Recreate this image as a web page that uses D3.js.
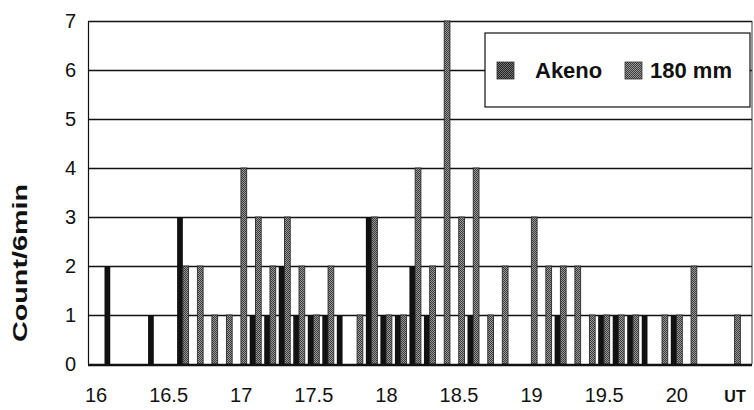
<!DOCTYPE html>
<html>
<head>
<meta charset="utf-8">
<script src="https://cdn.jsdelivr.net/npm/d3@7"></script>
<style>
body { margin: 0; background: #fff; }
svg { display: block; font-family: "Liberation Sans", Arial, sans-serif; }
</style>
</head>
<body>
<svg id="chart" width="754" height="410"></svg>
<script>
// 6 min bins (UT hours, bin start)
const bins = ["16.0","16.1","16.2","16.3","16.4","16.5","16.6","16.7","16.8","16.9",
              "17.0","17.1","17.2","17.3","17.4","17.5","17.6","17.7","17.8","17.9",
              "18.0","18.1","18.2","18.3","18.4","18.5","18.6","18.7","18.8","18.9",
              "19.0","19.1","19.2","19.3","19.4","19.5","19.6","19.7","19.8","19.9",
              "20.0","20.1","20.2","20.3","20.4"];
const akeno = [2,0,0,1,0,3,0,0,0,0, 1,1,2,1,1,1,1,0,3,1, 1,2,1,0,0,1,0,0,0,0, 0,1,0,0,1,1,1,1,0,1, 0,0,0,0,0];
const mm180 = [0,0,0,0,0,2,2,1,1,4, 3,2,3,2,1,2,0,1,3,1, 1,4,2,7,3,4,1,2,0,3, 2,2,2,1,1,1,1,0,1,1, 2,0,0,1,0];
const seriesNames = ["Akeno", "180 mm"];
const xTickLabels = ["16","16.5","17","17.5","18","18.5","19","19.5","20"];
const yTicks = [0,1,2,3,4,5,6,7];

const plot = {left: 88, right: 752, top: 21, bottom: 364};
const step = 14.52;
const svg = d3.select("#chart");

// stipple fills to mimic the printed halftone
const defs = svg.append("defs");
function stipple(id, light, dark) {
    const p = defs.append("pattern").attr("id", id)
        .attr("width", 2).attr("height", 2).attr("patternUnits", "userSpaceOnUse");
    p.append("rect").attr("width", 2).attr("height", 2).attr("fill", light);
    p.append("rect").attr("width", 1).attr("height", 1).attr("fill", dark);
    p.append("rect").attr("x", 1).attr("y", 1).attr("width", 1).attr("height", 1).attr("fill", dark);
}
stipple("grayFill", "#9a9a9a", "#3a3a3a");
stipple("darkFill", "#777", "#222");

const y = d3.scaleLinear().domain([0, 7]).range([plot.bottom, plot.top]);
const x = d3.scaleBand().domain(bins).range([103, 103 + bins.length * step]);
const xs = d3.scaleBand().domain(["akeno", "mm180"]).range([1.5, 13]);

// gridlines
svg.append("g").selectAll("line")
    .data(yTicks.filter(d => d > 0))
    .enter().append("line")
    .attr("x1", plot.left).attr("x2", plot.right)
    .attr("y1", d => y(d) + 0.5).attr("y2", d => y(d) + 0.5)
    .attr("stroke", "#111").attr("stroke-width", 1.3);

// bars
const rows = bins.map((b, i) => ({bin: b, akeno: akeno[i], mm180: mm180[i]}));
svg.append("g").selectAll("rect")
    .data(rows.filter(d => d.akeno > 0))
    .enter().append("rect")
    .attr("x", d => x(d.bin) + xs("akeno"))
    .attr("width", xs.bandwidth())
    .attr("y", d => y(d.akeno))
    .attr("height", d => y(0) - y(d.akeno))
    .attr("fill", "#111");

svg.append("g").selectAll("rect")
    .data(rows.filter(d => d.mm180 > 0))
    .enter().append("rect")
    .attr("x", d => x(d.bin) + xs("mm180"))
    .attr("width", xs.bandwidth())
    .attr("y", d => y(d.mm180))
    .attr("height", d => y(0) - y(d.mm180))
    .attr("fill", "url(#grayFill)")
    .attr("stroke", "#2a2a2a").attr("stroke-width", 0.9);

// frame
svg.append("line").attr("x1", plot.left + 0.5).attr("x2", plot.left + 0.5)
    .attr("y1", plot.top).attr("y2", plot.bottom).attr("stroke", "#111").attr("stroke-width", 1.2);
svg.append("line").attr("x1", plot.right).attr("x2", plot.right)
    .attr("y1", plot.top).attr("y2", plot.bottom).attr("stroke", "#333").attr("stroke-width", 1);
svg.append("line").attr("x1", plot.left).attr("x2", plot.right)
    .attr("y1", y(0) + 1).attr("y2", y(0) + 1).attr("stroke", "#111").attr("stroke-width", 2.5);

// y tick labels
svg.append("g").selectAll("text")
    .data(yTicks)
    .enter().append("text")
    .attr("x", 76).attr("y", d => y(d))
    .attr("dy", "0.36em")
    .attr("text-anchor", "end")
    .attr("font-size", 20)
    .attr("fill", "#111")
    .text(d => d);

// x tick labels
svg.append("g").selectAll("text")
    .data(xTickLabels)
    .enter().append("text")
    .attr("x", d => x((+d).toFixed(1)) - 7)
    .attr("y", 402)
    .attr("text-anchor", "middle")
    .attr("font-size", 20)
    .attr("fill", "#111")
    .text(d => d);

svg.append("text")
    .attr("x", 735).attr("y", 402)
    .attr("text-anchor", "middle")
    .attr("font-size", 16).attr("font-weight", "bold")
    .attr("fill", "#111")
    .text("UT");

svg.append("text")
    .attr("transform", "translate(27,263) rotate(-90)")
    .attr("text-anchor", "middle")
    .attr("font-size", 20).attr("font-weight", "bold")
    .attr("textLength", 158).attr("lengthAdjust", "spacingAndGlyphs")
    .attr("fill", "#111")
    .text("Count/6min");

// legend
const legend = svg.append("g").attr("transform", "translate(485,33)");
legend.append("rect")
    .attr("width", 265).attr("height", 74)
    .attr("fill", "#fff").attr("stroke", "#111").attr("stroke-width", 1.2);
const items = legend.selectAll(".item")
    .data(seriesNames)
    .enter().append("g").attr("class", "item")
    .attr("transform", (d, i) => "translate(" + [12 + i * 128, 29] + ")");
items.append("rect")
    .attr("width", 17).attr("height", 17)
    .attr("fill", (d, i) => i === 0 ? "url(#darkFill)" : "url(#grayFill)")
    .attr("stroke", "#333").attr("stroke-width", 0.8);
items.append("text")
    .attr("x", (d, i) => i === 0 ? 38 : 25)
    .attr("y", 16)
    .attr("font-size", 22).attr("font-weight", "bold")
    .attr("fill", "#111")
    .text(d => d);
</script>
</body>
</html>
